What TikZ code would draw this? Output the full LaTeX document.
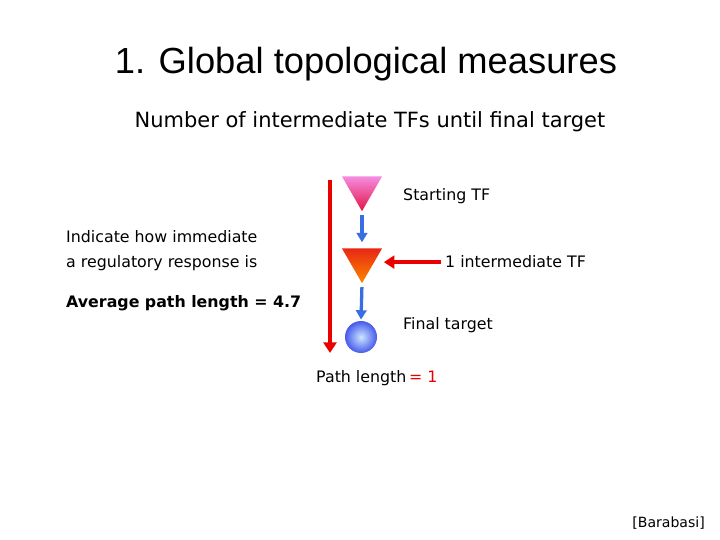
\documentclass[tikz,border=0pt]{standalone}
\usepackage{fontspec}
\setmainfont{DejaVu Sans}
\newfontfamily\titlefont{Liberation Sans}
\usetikzlibrary{arrows.meta,shapes.geometric}

\definecolor{arrowred}{RGB}{235,0,0}
\definecolor{arrowblue}{RGB}{55,110,225}
\definecolor{pinktop}{RGB}{245,140,225}
\definecolor{pinkbot}{RGB}{228,20,70}
\definecolor{orangetop}{RGB}{232,40,20}
\definecolor{orangebot}{RGB}{252,135,0}
\definecolor{spherein}{RGB}{205,230,255}
\definecolor{sphereout}{RGB}{70,90,235}

\tikzset{
  tf/.style={regular polygon, regular polygon sides=3, shape border rotate=180,
    minimum size=1.39cm, inner sep=0pt},
  txt/.style={anchor=base west, inner sep=0pt, font=\fontsize{13.5}{16}\selectfont},
  redarrow/.style={draw=arrowred, line width=3.4pt, -{Triangle[length=9pt,width=11pt]}},
  bluearrow/.style={draw=arrowblue, line width=2.8pt, -{Triangle[length=8pt,width=9pt]}}
}

\begin{document}
\begin{tikzpicture}[x=0.03cm,y=-0.03cm]

\useasboundingbox (0,0) rectangle (720,540);

\node[anchor=base, inner sep=0pt, font=\titlefont\fontsize{31}{36}\selectfont] (title) at (366,74) {1. Global topological measures};
\node[anchor=base, inner sep=0pt, font=\fontsize{17.9}{20}\selectfont] (subtitle) at (370,128) {Number of intermediate TFs until final target};

% network
\node[tf, top color=pinktop, bottom color=pinkbot] (start) at (362,188) {};
\node[tf, top color=orangetop, bottom color=orangebot] (inter) at (362,260) {};
\node[circle, minimum size=0.96cm, inner sep=0pt, shading=radial,
  inner color=spherein, outer color=sphereout] (final) at (361,337) {};

\draw[bluearrow, shorten <=3pt, shorten >=5pt] (start.south) -- (inter.north);
\draw[bluearrow, shorten <=3pt, shorten >=1pt] (inter.south) -- (final.north);

\coordinate (pathtop) at (330,180);
\coordinate (pathbot) at (330,353);
\draw[redarrow] (pathtop) -- (pathbot);

\node[txt] (startlbl) at (403,201) {Starting TF};
\node[txt] (interlbl) at (445,268) {1 intermediate TF};
\node[txt] (finallbl) at (403,330) {Final target};
\draw[redarrow, shorten <=3pt, shorten >=7pt] (interlbl.west) -- (interlbl.west -| inter.east);

\node[txt] (pathlbl) at (316,383) {Path length\,{\color{arrowred}= 1}};

\node[txt] (ind1) at (66,243) {Indicate how immediate};
\node[txt] (ind2) at (66,268) {a regulatory response is};
\node[txt, font=\bfseries\fontsize{13.5}{16}\selectfont] (avg) at (66,308) {Average path length = 4.7};

\node[anchor=base east, inner sep=0pt, font=\fontsize{12}{14}\selectfont] (ref) at (705,527) {[Barabasi]};

\end{tikzpicture}
\end{document}
